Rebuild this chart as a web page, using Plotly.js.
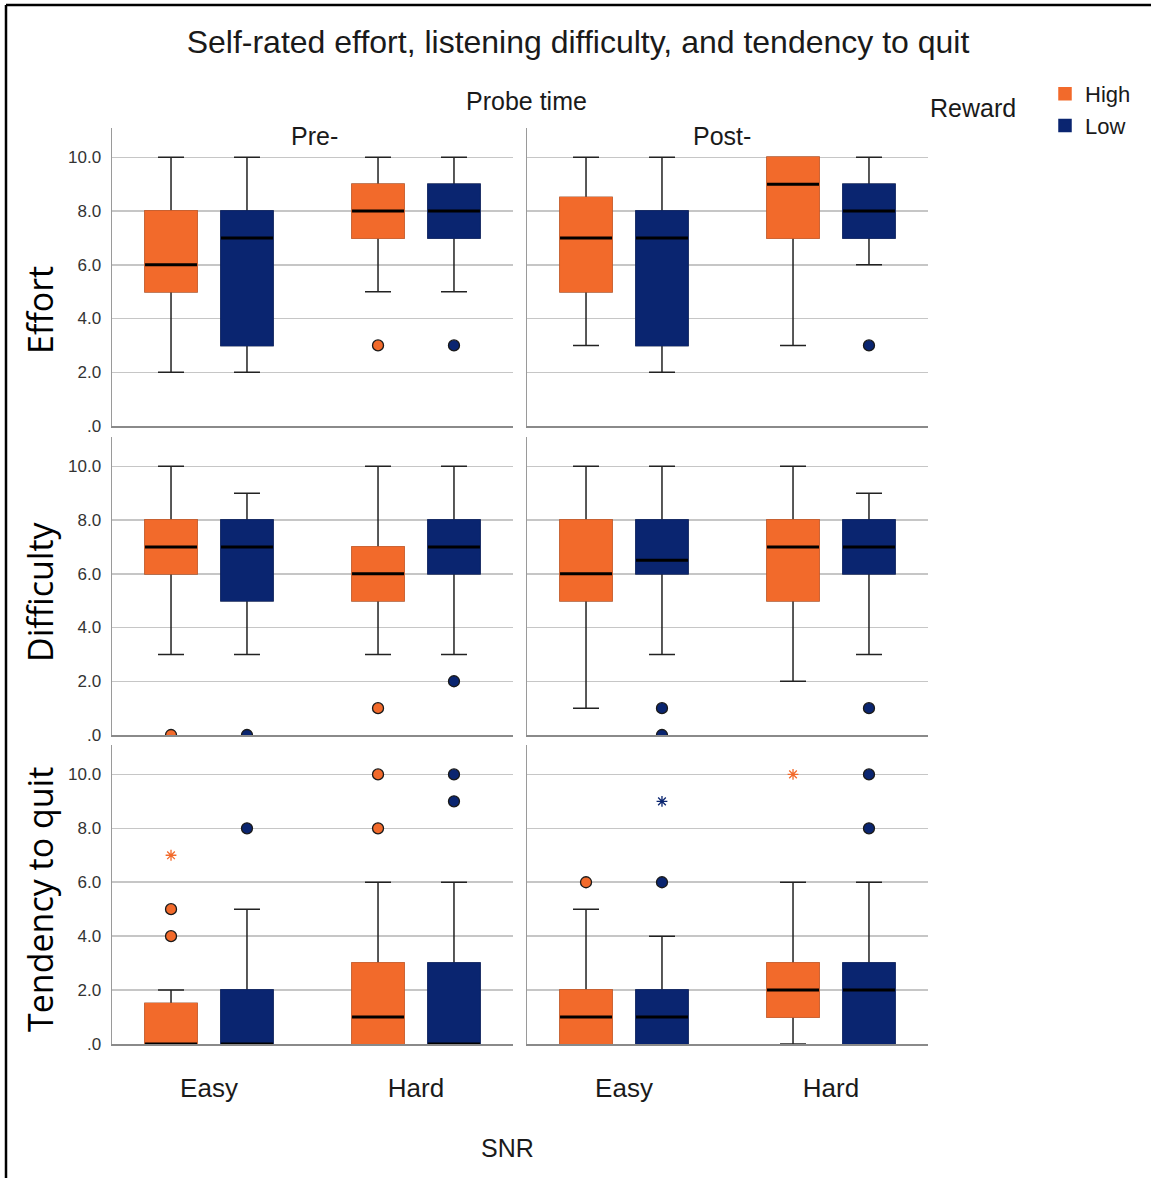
<!DOCTYPE html>
<html>
<head>
<meta charset="utf-8">
<script src="https://cdn.plot.ly/plotly-3.0.1.min.js"></script>
<style>html,body{margin:0;padding:0;background:#fff;}#chart{width:1151px;height:1178px;}</style>
</head>
<body>
<div id="chart"></div>
<script>
// ---------------- data ----------------
const snrLevels = ['Easy', 'Hard'];
const probeTimes = ['Pre-', 'Post-'];
const measures = ['Effort', 'Difficulty', 'Tendency to quit'];
const rewards = ['High', 'Low'];
const yTickVals = [0, 2, 4, 6, 8, 10];
const yTickText = ['.0', '2.0', '4.0', '6.0', '8.0', '10.0'];

// [lower whisker, Q1, median, Q3, upper whisker] for [Easy, Hard]
const effortPreHigh = [[2, 5, 6, 8, 10], [5, 7, 8, 9, 10]];
const effortPreLow = [[2, 3, 7, 8, 10], [5, 7, 8, 9, 10]];
const effortPostHigh = [[3, 5, 7, 8.5, 10], [3, 7, 9, 10, 10]];
const effortPostLow = [[2, 3, 7, 8, 10], [6, 7, 8, 9, 10]];
const difficultyPreHigh = [[3, 6, 7, 8, 10], [3, 5, 6, 7, 10]];
const difficultyPreLow = [[3, 5, 7, 8, 9], [3, 6, 7, 8, 10]];
const difficultyPostHigh = [[1, 5, 6, 8, 10], [2, 5, 7, 8, 10]];
const difficultyPostLow = [[3, 6, 6.5, 8, 10], [3, 6, 7, 8, 9]];
const quitPreHigh = [[0, 0, 0, 1.5, 2], [0, 0, 1, 3, 6]];
const quitPreLow = [[0, 0, 0, 2, 5], [0, 0, 0, 3, 6]];
const quitPostHigh = [[0, 0, 1, 2, 5], [0, 1, 2, 3, 6]];
const quitPostLow = [[0, 0, 1, 2, 4], [0, 0, 2, 3, 6]];

// outliers: [SNR, value, kind]  kind 'o' = outlier, '*' = extreme
const effortPreHighOut = [['Hard', 3, 'o']];
const effortPreLowOut = [['Hard', 3, 'o']];
const effortPostHighOut = [];
const effortPostLowOut = [['Hard', 3, 'o']];
const difficultyPreHighOut = [['Easy', 0, 'o'], ['Hard', 1, 'o']];
const difficultyPreLowOut = [['Easy', 0, 'o'], ['Hard', 2, 'o']];
const difficultyPostHighOut = [];
const difficultyPostLowOut = [['Easy', 1, 'o'], ['Easy', 0, 'o'], ['Hard', 1, 'o']];
const quitPreHighOut = [['Easy', 4, 'o'], ['Easy', 5, 'o'], ['Easy', 7, '*'], ['Hard', 8, 'o'], ['Hard', 10, 'o']];
const quitPreLowOut = [['Easy', 8, 'o'], ['Hard', 9, 'o'], ['Hard', 10, 'o']];
const quitPostHighOut = [['Easy', 6, 'o'], ['Hard', 10, '*']];
const quitPostLowOut = [['Easy', 6, 'o'], ['Easy', 9, '*'], ['Hard', 8, 'o'], ['Hard', 10, 'o']];

// ---------------- styling / layout ----------------
const W = 1151, H = 1178;
const px = v => v / W;
const py = v => 1 - v / H;
const colors = {High: '#F26A2B', Low: '#0A2570'};
const FONT = 'Liberation Sans, Arial, sans-serif';
const TXT = '#1a1a1a';

const panels = [
  {r: 0, c: 0, High: effortPreHigh, Low: effortPreLow, HighOut: effortPreHighOut, LowOut: effortPreLowOut},
  {r: 0, c: 1, High: effortPostHigh, Low: effortPostLow, HighOut: effortPostHighOut, LowOut: effortPostLowOut},
  {r: 1, c: 0, High: difficultyPreHigh, Low: difficultyPreLow, HighOut: difficultyPreHighOut, LowOut: difficultyPreLowOut},
  {r: 1, c: 1, High: difficultyPostHigh, Low: difficultyPostLow, HighOut: difficultyPostHighOut, LowOut: difficultyPostLowOut},
  {r: 2, c: 0, High: quitPreHigh, Low: quitPreLow, HighOut: quitPreHighOut, LowOut: quitPreLowOut},
  {r: 2, c: 1, High: quitPostHigh, Low: quitPostLow, HighOut: quitPostHighOut, LowOut: quitPostLowOut}
];

const colDomains = [[px(112), px(513)], [px(527), px(928)]];
const rowPix = [[128, 426], [437, 735], [745, 1044]];

const traces = [];
const layout = {
  width: W, height: H,
  margin: {l: 0, r: 0, t: 0, b: 0},
  paper_bgcolor: '#fff', plot_bgcolor: '#fff',
  font: {family: FONT, color: TXT},
  boxmode: 'group', boxgap: 0.266, boxgroupgap: 0.316,
  scattermode: 'group', scattergap: 0.266,
  showlegend: true,
  legend: {x: px(1045), xanchor: 'left', y: py(73), yanchor: 'top',
           font: {size: 22, family: FONT, color: TXT}, itemwidth: 30,
           traceorder: 'normal', bgcolor: 'rgba(0,0,0,0)'},
  title: {text: 'Self-rated effort, listening difficulty, and tendency to quit',
          x: px(578), xanchor: 'center', xref: 'paper', y: py(42), yanchor: 'middle', yref: 'paper',
          font: {size: 32, family: FONT, color: TXT}},
  annotations: [],
  shapes: [
    {type: 'line', xref: 'paper', yref: 'paper', x0: px(6), x1: px(6), y0: 0, y1: py(5), line: {color: '#000', width: 2.5}},
    {type: 'line', xref: 'paper', yref: 'paper', x0: px(6), x1: 1, y0: py(5), y1: py(5), line: {color: '#000', width: 2.5}}
  ]
};

panels.forEach((p) => {
  const k = p.r * 2 + p.c + 1;
  const xa = k === 1 ? 'x' : 'x' + k;
  const ya = k === 1 ? 'y' : 'y' + k;
  const [top, bot] = rowPix[p.r];
  layout[k === 1 ? 'xaxis' : 'xaxis' + k] = {
    domain: colDomains[p.c], anchor: ya, type: 'category',
    categoryorder: 'array', categoryarray: snrLevels,
    range: [-0.4686, 1.4686], fixedrange: true,
    showline: true, linecolor: '#8a8a8a', linewidth: 2,
    showgrid: false, zeroline: false, ticks: '',
    showticklabels: p.r === 2, ticklabelstandoff: 20,
    tickfont: {size: 26, family: FONT, color: TXT}
  };
  layout[k === 1 ? 'yaxis' : 'yaxis' + k] = {
    domain: [py(bot), py(top)], anchor: xa,
    range: [0, 11.09], fixedrange: true,
    tickvals: yTickVals, ticktext: yTickText,
    showticklabels: p.c === 0, ticks: '', ticklabelstandoff: 6,
    tickfont: {size: 17, family: FONT, color: '#333'},
    showgrid: true, gridcolor: '#c6c6c6', gridwidth: 1.5,
    showline: true, linecolor: '#9a9a9a', linewidth: 1.5, zeroline: false
  };

  rewards.forEach((rw) => {
    const s = p[rw];
    const col = colors[rw];
    const common = {type: 'box', x: snrLevels, xaxis: xa, yaxis: ya, boxpoints: false,
                    offsetgroup: rw, alignmentgroup: 'g', hoverinfo: 'skip', name: rw, legendgroup: rw};
    // layer 1: whiskers + caps
    traces.push(Object.assign({}, common, {
      lowerfence: s.map(v => v[0]), q1: s.map(v => v[1]), median: s.map(v => v[2]),
      q3: s.map(v => v[3]), upperfence: s.map(v => v[4]),
      fillcolor: col, line: {color: '#222', width: 1.5}, whiskerwidth: 0.5, showlegend: false
    }));
    // layer 2: box body
    traces.push(Object.assign({}, common, {
      lowerfence: s.map(v => v[1]), q1: s.map(v => v[1]), median: s.map(v => v[2]),
      q3: s.map(v => v[3]), upperfence: s.map(v => v[3]),
      fillcolor: col, line: {color: col, width: 1.5}, whiskerwidth: 0,
      showlegend: k === 1
    }));
    // layer 3: median line
    traces.push(Object.assign({}, common, {
      lowerfence: s.map(v => v[2]), q1: s.map(v => v[2]), median: s.map(v => v[2]),
      q3: s.map(v => v[2]), upperfence: s.map(v => v[2]),
      fillcolor: 'rgba(0,0,0,0)', line: {color: '#000', width: 3}, whiskerwidth: 0, showlegend: false
    }));
    // outliers
    const out = p[rw + 'Out'];
    const ox = out.length ? out.map(o => o[0]) : ['Easy'];
    const oy = out.length ? out.map(o => o[1]) : [null];
    traces.push({
      type: 'scatter', mode: 'markers', x: ox, y: oy, xaxis: xa, yaxis: ya,
      offsetgroup: rw, alignmentgroup: 'g', orientation: 'v', showlegend: false, hoverinfo: 'skip',
      marker: {
        opacity: 1,
        symbol: out.length ? out.map(o => o[2] === '*' ? 'asterisk-open' : 'circle') : 'circle',
        size: out.length ? out.map(o => o[2] === '*' ? 9 : 11) : 11,
        color: col,
        line: {color: out.length ? out.map(o => o[2] === '*' ? col : '#1a1a1a') : '#1a1a1a', width: 1.3}
      }
    });
  });
});

// text labels
const ann = (text, x, y, size, extra) => Object.assign({
  text: text, xref: 'paper', yref: 'paper', x: px(x), y: py(y), xanchor: 'center', yanchor: 'middle',
  showarrow: false, font: {size: size, family: FONT, color: TXT}
}, extra || {});
layout.annotations.push(ann('Probe time', 526, 101, 25));
layout.annotations.push(ann(probeTimes[0], 314, 136, 25));
layout.annotations.push(ann(probeTimes[1], 722, 136, 25));
layout.annotations.push(ann('Reward', 973, 108, 25));
layout.annotations.push(ann('SNR', 507, 1148, 25));
const yTitleY = [310, 592, 900];
measures.forEach((m, i) => {
  layout.annotations.push(ann(m, 40, yTitleY[i], 34, {textangle: -90, font: {size: 34, family: 'Open Sans, sans-serif', color: '#000'}}));
});

Plotly.newPlot('chart', traces, layout, {staticPlot: true, displayModeBar: false});
</script>
</body>
</html>
